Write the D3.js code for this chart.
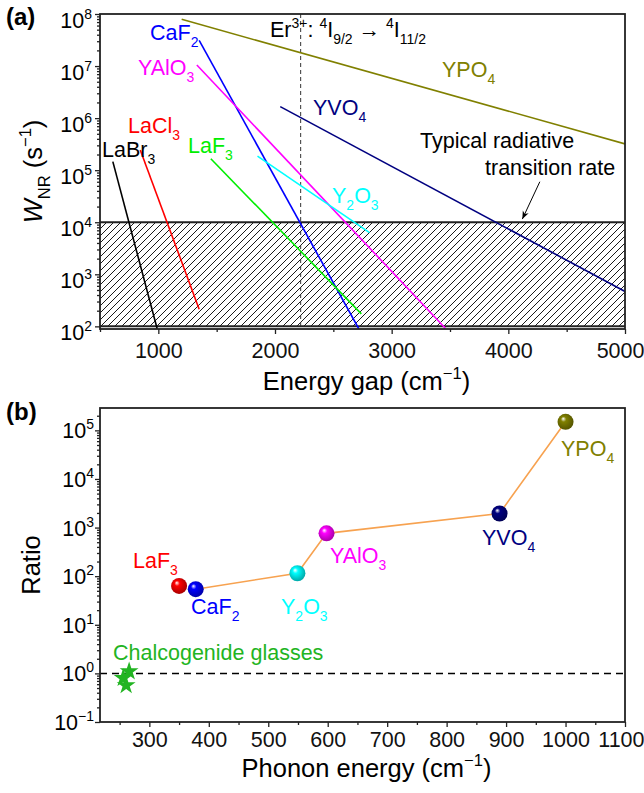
<!DOCTYPE html>
<html>
<head>
<meta charset="utf-8">
<script src="https://cdn.jsdelivr.net/npm/d3@7"></script>
<style>
  body { margin: 0; background: #fff; }
</style>
</head>
<body>
<div class="chart"></div>
<script>
// two panels: (a) energy-gap law of the non-radiative rate per host,
// (b) ratio versus phonon energy of the host

// panel (a) data: each host is a straight line on the log axis, given by its end points
var hosts = ['YPO4', 'CaF2', 'YAlO3', 'LaCl3', 'LaBr3', 'LaF3', 'Y2O3', 'YVO4']
var gapStart = [1200, 1350, 1330, 845, 610, 1450, 1850, 2045]
var gapEnd = [5000, 2718, 3460, 1350, 990, 2740, 2810, 5000]
var rateStart = [7.9e7, 3.1e7, 1.05e7, 2.45e5, 1.46e5, 1.66e5, 1.86e5, 1.66e6]
var rateEnd = [3.2e5, 90, 92, 214, 90, 174, 6.3e3, 468]

// Er3+ 4I9/2 -> 4I11/2 gap and the typical radiative rate band
var erGap = 2220
var radRate = 1e4
var bandLow = 100

// arrow for "typical radiative transition rate" (energy gap, rate)
var arrowGap = [4270, 4120]
var arrowRate = [6e4, 1.15e4]

// panel (b) data
var ratioHosts = ['LaF3', 'CaF2', 'Y2O3', 'YAlO3', 'YVO4', 'YPO4']
var phonon = [350, 378, 549, 598, 889, 1000]
var ratio = [63, 54, 115, 760, 1950, 1.5e5]
var glassPhonon = [266, 256, 261]
var glassRatio = [1.1, 0.8, 0.57]

// tick values
var gapTicks = [1000, 2000, 3000, 4000, 5000]
var gapMinor = [500, 1500, 2500, 3500, 4500]
var rateExp = [2, 3, 4, 5, 6, 7, 8]
var phononTicks = [300, 400, 500, 600, 700, 800, 900, 1000, 1100]
var phononMinor = [250, 350, 450, 550, 650, 750, 850, 950, 1050]
var ratioExp = [-1, 0, 1, 2, 3, 4, 5]

// colours (Origin defaults)
var colour = {
  YPO4: '#808000',
  CaF2: '#0000ff',
  YAlO3: '#ff00ff',
  LaCl3: '#ff0000',
  LaBr3: '#000000',
  LaF3: '#00ee00',
  Y2O3: '#00ffff',
  YVO4: '#000080'
}
// panel (b) draws LaF3 in red
var colourB = Object.assign({}, colour, { LaF3: '#ff0000' })
var glassColour = '#22b422'
var linkColour = '#f7a250'

// label spots (pixels, left/baseline)
var labelA = {
  YPO4: [442, 77],
  CaF2: [150, 40],
  YAlO3: [138, 75],
  LaCl3: [128, 133],
  LaBr3: [102, 157],
  LaF3: [188, 153],
  Y2O3: [332, 203],
  YVO4: [313, 115]
}
var labelB = {
  LaF3: [133, 568],
  CaF2: [191, 614],
  Y2O3: [281, 614],
  YAlO3: [330, 563],
  YVO4: [482, 545],
  YPO4: [561, 456]
}

var font = "'Liberation Sans', Arial, sans-serif"
var labelSize = 21.5
var titleSize = 25.5

var svg = d3.select('.chart')
  .append('svg')
  .attr('width', 644)
  .attr('height', 793)
  .style('font-family', font)

var defs = svg.append('defs')

// hatch for the radiative band
defs.append('pattern')
  .attr('id', 'hatch')
  .attr('patternUnits', 'userSpaceOnUse')
  .attr('width', 7)
  .attr('height', 7)
  .append('path')
  .attr('d', 'M-1,1 l2,-2 M0,7 l7,-7 M6,8 l2,-2')
  .attr('stroke', '#000')
  .attr('stroke-width', 0.9)

defs.append('marker')
  .attr('id', 'arrow')
  .attr('viewBox', '0 0 10 10')
  .attr('refX', 10)
  .attr('refY', 5)
  .attr('markerWidth', 8)
  .attr('markerHeight', 8)
  .attr('markerUnits', 'userSpaceOnUse')
  .attr('orient', 'auto')
  .append('path')
  .attr('d', 'M0,1 L10,5 L0,9 L3,5 z')
  .attr('fill', '#000')

// write text with sub/superscripts; parts = [[text, 'sub'|'sup'|'it'|'']]
function rich (sel, parts, size) {
  var shift = 0
  parts.forEach(function (p) {
    var s = p[1] || ''
    var target = s === 'sub' ? size * 0.32 : (s === 'sup' ? -size * 0.42 : 0)
    var ts = sel.append('tspan').text(p[0]).attr('dy', target - shift)
    if (s === 'sub' || s === 'sup') ts.attr('font-size', size * 0.65)
    if (s === 'it') ts.attr('font-style', 'italic')
    shift = target
  })
  return sel
}

// chemical formula -> digits as subscripts
function chem (name) {
  return name.match(/[0-9]+|[^0-9]+/g).map(function (t) {
    return [t, /[0-9]/.test(t) ? 'sub' : '']
  })
}

function logMinor (lo, hi) {
  var out = []
  for (var e = Math.floor(Math.log10(lo)); e <= Math.ceil(Math.log10(hi)); e++) {
    for (var m = 2; m <= 9; m++) {
      var v = m * Math.pow(10, e)
      if (v > lo && v < hi) out.push(v)
    }
  }
  return out
}

function expLabel (e) {
  return e < 0 ? '\u2212' + (-e) : String(e)
}

// keep the last x tick label inside the picture (as in the original)
function pinLast (axisG) {
  var last = axisG.selectAll('.tick:last-of-type text')
  last.attr('text-anchor', 'end').attr('x', 19)
}

// ---------------- panel (a) ----------------
var xa = d3.scaleLinear().domain([500, 5000]).range([100, 625])
var ya = d3.scaleLog().domain([89, 1e8]).range([329, 14])

defs.append('clipPath').attr('id', 'clipA')
  .append('rect')
  .attr('x', xa(500)).attr('y', ya(1e8))
  .attr('width', xa(5000) - xa(500)).attr('height', ya(89) - ya(1e8))

var ga = svg.append('g')

// hatched band between 1e2 and the radiative rate
ga.append('rect')
  .attr('x', xa(500))
  .attr('y', ya(radRate))
  .attr('width', xa(5000) - xa(500))
  .attr('height', ya(bandLow) - ya(radRate))
  .attr('fill', 'url(#hatch)')

ga.selectAll('.band')
  .data([radRate, bandLow])
  .enter()
  .append('line')
  .attr('x1', xa(500))
  .attr('x2', xa(5000))
  .attr('y1', function (d) { return ya(d) })
  .attr('y2', function (d) { return ya(d) })
  .attr('stroke', '#222')
  .attr('stroke-width', 2)

// Er3+ transition
ga.append('line')
  .attr('x1', xa(erGap)).attr('x2', xa(erGap))
  .attr('y1', ya(1e8)).attr('y2', ya(89))
  .attr('stroke', '#333')
  .attr('stroke-width', 1)
  .attr('stroke-dasharray', '4,3')

// host lines
ga.append('g')
  .attr('clip-path', 'url(#clipA)')
  .selectAll('.host')
  .data(hosts)
  .enter()
  .append('line')
  .attr('class', 'host')
  .attr('x1', function (d, i) { return xa(gapStart[i]) })
  .attr('x2', function (d, i) { return xa(gapEnd[i]) })
  .attr('y1', function (d, i) { return ya(rateStart[i]) })
  .attr('y2', function (d, i) { return ya(rateEnd[i]) })
  .attr('stroke', function (d) { return colour[d] })
  .attr('stroke-width', 1.6)

hosts.forEach(function (h) {
  rich(ga.append('text')
    .attr('x', labelA[h][0])
    .attr('y', labelA[h][1])
    .attr('font-size', labelSize)
    .attr('fill', colour[h]), chem(h), labelSize)
})

// Er3+ label
rich(ga.append('text').attr('x', 270).attr('y', 37).attr('font-size', labelSize),
  [['Er'], ['3+', 'sup'], [': '], ['4', 'sup'], ['I'], ['9/2', 'sub'], [' \u2192 '],
    ['4', 'sup'], ['I'], ['11/2', 'sub']], labelSize)

ga.append('text').attr('x', 420).attr('y', 148).attr('font-size', labelSize)
  .text('Typical radiative')
ga.append('text').attr('x', 485).attr('y', 175).attr('font-size', labelSize)
  .text('transition rate')

ga.append('line')
  .attr('x1', xa(arrowGap[0])).attr('y1', ya(arrowRate[0]))
  .attr('x2', xa(arrowGap[1])).attr('y2', ya(arrowRate[1]))
  .attr('stroke', '#000')
  .attr('stroke-width', 1)
  .attr('marker-end', 'url(#arrow)')

// frame
ga.append('rect')
  .attr('x', xa(500)).attr('y', ya(1e8))
  .attr('width', xa(5000) - xa(500)).attr('height', ya(89) - ya(1e8))
  .attr('fill', 'none')
  .attr('stroke', '#222')
  .attr('stroke-width', 1.8)

// x axis
var xAxisA = ga.append('g')
  .attr('transform', 'translate(0,' + ya(89) + ')')
  .call(d3.axisBottom(xa).tickValues(gapTicks).tickSize(5).tickPadding(9)
    .tickFormat(function (d) { return d }))
ga.append('g')
  .attr('transform', 'translate(0,' + ya(89) + ')')
  .call(d3.axisBottom(xa).tickValues(gapMinor).tickSize(3).tickFormat(''))

// y axis
ga.append('g')
  .attr('transform', 'translate(' + xa(500) + ',0)')
  .call(d3.axisLeft(ya).tickValues(rateExp.map(function (e) { return Math.pow(10, e) }))
    .tickSize(5).tickFormat(''))
ga.append('g')
  .attr('transform', 'translate(' + xa(500) + ',0)')
  .call(d3.axisLeft(ya).tickValues(logMinor(100, 1e8)).tickSize(3).tickFormat(''))

rateExp.forEach(function (e) {
  rich(ga.append('text')
    .attr('x', 92)
    .attr('y', ya(Math.pow(10, e)) + 14)
    .attr('font-size', labelSize)
    .attr('text-anchor', 'end'), [['10'], [expLabel(e), 'sup']], labelSize)
})

rich(ga.append('text')
  .attr('transform', 'translate(42,' + (ya(89) + ya(1e8)) / 2 + ') rotate(-90)')
  .attr('text-anchor', 'middle')
  .attr('font-size', titleSize),
[['W', 'it'], ['NR', 'sub'], [' (s'], ['\u22121', 'sup'], [')']], titleSize)

ga.append('text')
  .attr('x', (xa(500) + xa(5000)) / 2 + 4)
  .attr('y', 390)
  .attr('text-anchor', 'middle')
  .attr('font-size', titleSize)
  .call(function (t) { rich(t, [['Energy gap (cm'], ['\u22121', 'sup'], [')']], titleSize) })

ga.append('text').attr('x', 6).attr('y', 25)
  .attr('font-size', 24).attr('font-weight', 'bold').text('(a)')

// ---------------- panel (b) ----------------
var xb = d3.scaleLinear().domain([217, 1100]).range([100, 625])
var yb = d3.scaleLog().domain([0.1, Math.pow(10, 5.46)]).range([722, 408])
var yTop = Math.pow(10, 5.46)

var gb = svg.append('g')

// ratio = 1 reference
gb.append('line')
  .attr('x1', xb(217)).attr('x2', xb(1100))
  .attr('y1', yb(1)).attr('y2', yb(1))
  .attr('stroke', '#000')
  .attr('stroke-width', 1.5)
  .attr('stroke-dasharray', '7,5')

// connecting line (from CaF2 on)
var link = d3.line()
  .x(function (d) { return xb(phonon[d]) })
  .y(function (d) { return yb(ratio[d]) })
gb.append('path')
  .attr('d', link(d3.range(1, phonon.length)))
  .attr('fill', 'none')
  .attr('stroke', linkColour)
  .attr('stroke-width', 1.6)

// shaded balls
ratioHosts.forEach(function (h, i) {
  var grad = defs.append('radialGradient')
    .attr('id', 'ball' + i)
    .attr('cx', '0.45').attr('cy', '0.45').attr('r', '0.6')
    .attr('fx', '0.35').attr('fy', '0.3')
  grad.append('stop').attr('offset', '0').attr('stop-color', '#fff')
  grad.append('stop').attr('offset', '0.28').attr('stop-color', colourB[h])
  grad.append('stop').attr('offset', '1').attr('stop-color', d3.color(colourB[h]).darker(1.3))
})

gb.selectAll('.ball')
  .data(ratioHosts)
  .enter()
  .append('circle')
  .attr('class', 'ball')
  .attr('cx', function (d, i) { return xb(phonon[i]) })
  .attr('cy', function (d, i) { return yb(ratio[i]) })
  .attr('r', 8)
  .attr('fill', function (d, i) { return 'url(#ball' + i + ')' })

ratioHosts.forEach(function (h) {
  rich(gb.append('text')
    .attr('x', labelB[h][0])
    .attr('y', labelB[h][1])
    .attr('font-size', labelSize)
    .attr('fill', colourB[h]), chem(h), labelSize)
})

// chalcogenide glasses
gb.selectAll('.glass')
  .data(glassPhonon)
  .enter()
  .append('path')
  .attr('class', 'glass')
  .attr('d', d3.symbol().type(d3.symbolStar).size(110))
  .attr('transform', function (d, i) {
    return 'translate(' + xb(d) + ',' + yb(glassRatio[i]) + ')'
  })
  .attr('fill', glassColour)

gb.append('text').attr('x', 113).attr('y', 660)
  .attr('font-size', labelSize).attr('fill', glassColour)
  .text('Chalcogenide glasses')

// frame
gb.append('rect')
  .attr('x', xb(217)).attr('y', yb(yTop))
  .attr('width', xb(1100) - xb(217)).attr('height', yb(0.1) - yb(yTop))
  .attr('fill', 'none')
  .attr('stroke', '#222')
  .attr('stroke-width', 1.8)

var xAxisB = gb.append('g')
  .attr('transform', 'translate(0,' + yb(0.1) + ')')
  .call(d3.axisBottom(xb).tickValues(phononTicks).tickSize(5).tickPadding(5)
    .tickFormat(function (d) { return d }))
gb.append('g')
  .attr('transform', 'translate(0,' + yb(0.1) + ')')
  .call(d3.axisBottom(xb).tickValues(phononMinor).tickSize(3).tickFormat(''))

gb.append('g')
  .attr('transform', 'translate(' + xb(217) + ',0)')
  .call(d3.axisLeft(yb).tickValues(ratioExp.map(function (e) { return Math.pow(10, e) }))
    .tickSize(5).tickFormat(''))
gb.append('g')
  .attr('transform', 'translate(' + xb(217) + ',0)')
  .call(d3.axisLeft(yb).tickValues(logMinor(0.1, yTop)).tickSize(3).tickFormat(''))

ratioExp.forEach(function (e) {
  rich(gb.append('text')
    .attr('x', 94)
    .attr('y', yb(Math.pow(10, e)) + 8)
    .attr('font-size', labelSize)
    .attr('text-anchor', 'end'), [['10'], [expLabel(e), 'sup']], labelSize)
})

gb.append('text')
  .attr('transform', 'translate(40,' + (yb(0.1) + yb(yTop)) / 2 + ') rotate(-90)')
  .attr('text-anchor', 'middle')
  .attr('font-size', titleSize)
  .text('Ratio')

gb.append('text')
  .attr('x', (xb(217) + xb(1100)) / 2 + 4)
  .attr('y', 777)
  .attr('text-anchor', 'middle')
  .attr('font-size', titleSize)
  .call(function (t) { rich(t, [['Phonon energy (cm'], ['\u22121', 'sup'], [')']], titleSize) })

gb.append('text').attr('x', 6).attr('y', 420)
  .attr('font-size', 24).attr('font-weight', 'bold').text('(b)')

// common axis styling
svg.selectAll('.tick line').attr('stroke', '#222').attr('stroke-width', 1.3)
svg.selectAll('.domain').remove()
svg.selectAll('.tick text')
  .attr('font-family', font)
  .attr('font-size', labelSize)
  .attr('fill', '#111')
svg.selectAll('g[font-family]').attr('font-family', font)
pinLast(xAxisA)
pinLast(xAxisB)
</script>
</body>
</html>
